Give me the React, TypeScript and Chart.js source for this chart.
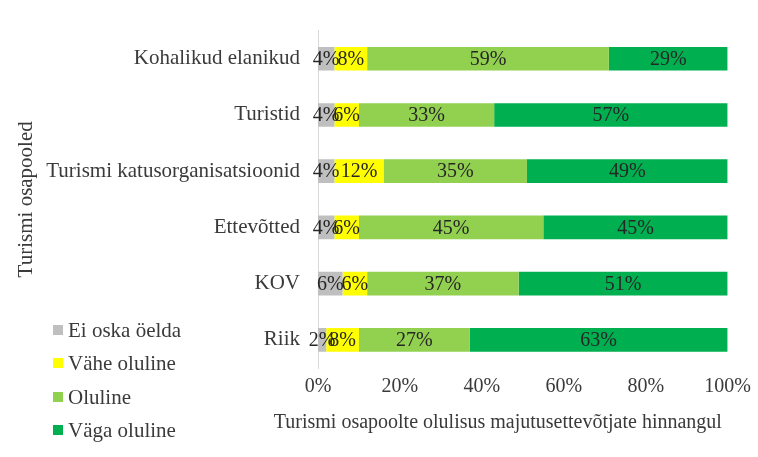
import React, { useEffect, useRef } from "react";
import { Chart, registerables } from "chart.js";

Chart.register(...registerables);

const categories = [
  "Kohalikud elanikud",
  "Turistid",
  "Turismi katusorganisatsioonid",
  "Ettevõtted",
  "KOV",
  "Riik",
];
const seriesNames = ["Ei oska öelda", "Vähe oluline", "Oluline", "Väga oluline"];
const eiOska = [4, 4, 4, 4, 6, 2];
const vaheOluline = [8, 6, 12, 6, 6, 8];
const oluline = [59, 33, 35, 45, 37, 27];
const vagaOluline = [29, 57, 49, 45, 51, 63];
const seriesColors = ["#BFBFBF", "#FFFF00", "#92D050", "#00B050"];
const xTitle = "Turismi osapoolte olulisus majutusettevõtjate hinnangul";
const yTitle = "Turismi osapooled";

const FONT = "'Liberation Serif', 'Times New Roman', serif";
const TEXT = "#3a3a3a";

const labelsPlugin = {
  id: "segLabels",
  afterDatasetsDraw(chart: any) {
    const ctx = chart.ctx;
    ctx.save();
    ctx.font = `20px ${FONT}`;
    ctx.fillStyle = "#262626";
    ctx.textAlign = "center";
    ctx.textBaseline = "middle";
    chart.data.datasets.forEach((ds: any, di: number) => {
      const meta = chart.getDatasetMeta(di);
      meta.data.forEach((el: any, i: number) => {
        const v = ds.data[i];
        const cx = (el.x + el.base) / 2;
        ctx.fillText(`${v}%`, cx, el.y + 1);
      });
    });
    ctx.restore();
  },
};

const extrasPlugin = {
  id: "extras",
  afterDraw(chart: any) {
    const ctx = chart.ctx;
    ctx.save();
    // x axis title
    ctx.font = `20px ${FONT}`;
    ctx.fillStyle = TEXT;
    ctx.textAlign = "center";
    ctx.textBaseline = "middle";
    const ca = chart.chartArea;
    ctx.fillText(xTitle, (ca.left + ca.right) / 2 - 25, 423);
    // legend
    ctx.font = `21px ${FONT}`;
    ctx.textAlign = "left";
    const rows = [330, 363, 397, 430];
    chart.data.datasets.forEach((ds: any, i: number) => {
      ctx.fillStyle = ds.backgroundColor;
      ctx.fillRect(53, rows[i] - 5, 10, 10);
      ctx.fillStyle = TEXT;
      ctx.fillText(ds.label, 68, rows[i] + 1);
    });
    ctx.restore();
  },
};

export default function App() {
  const ref = useRef<HTMLCanvasElement>(null);
  useEffect(() => {
    if (!ref.current) return;
    const data = [eiOska, vaheOluline, oluline, vagaOluline];
    const chart = new Chart(ref.current, {
      type: "bar",
      data: {
        labels: categories,
        datasets: seriesNames.map((name, i) => ({
          label: name,
          data: data[i],
          backgroundColor: seriesColors[i],
          borderWidth: 0,
          barPercentage: 0.42,
          categoryPercentage: 1,
        })),
      },
      options: {
        indexAxis: "y",
        animation: false,
        responsive: false,
        maintainAspectRatio: false,
        layout: { padding: { top: 28, right: 30, bottom: 0, left: 0 } },
        plugins: {
          legend: { display: false },
          tooltip: { enabled: false },
        },
        scales: {
          x: {
            stacked: true,
            min: 0,
            max: 100,
            grid: { display: false, drawTicks: false },
            border: { display: false },
            ticks: {
              stepSize: 20,
              padding: 7,
              color: TEXT,
              font: { family: FONT, size: 20 },
              callback: (v: any) => `${v}%`,
            },
            afterFit: (s: any) => {
              s.height = 89;
            },
          },
          y: {
            stacked: true,
            grid: { display: false, drawTicks: false },
            border: { display: true, color: "#D9D9D9", width: 1 },
            ticks: {
              padding: 18,
              color: TEXT,
              font: { family: FONT, size: 21 },
            },
            title: {
              display: true,
              text: yTitle,
              color: TEXT,
              font: { family: FONT, size: 21 },
              padding: { top: 14, bottom: 0 },
            },
            afterFit: (s: any) => {
              s.width = 318;
            },
          },
        },
      },
      plugins: [labelsPlugin, extrasPlugin],
    });
    return () => chart.destroy();
  }, []);
  return (
    <div style={{ position: "fixed", left: 0, top: 0, width: 758, height: 457, background: "#fff" }}>
      <canvas ref={ref} width={758} height={457} />
    </div>
  );
}
